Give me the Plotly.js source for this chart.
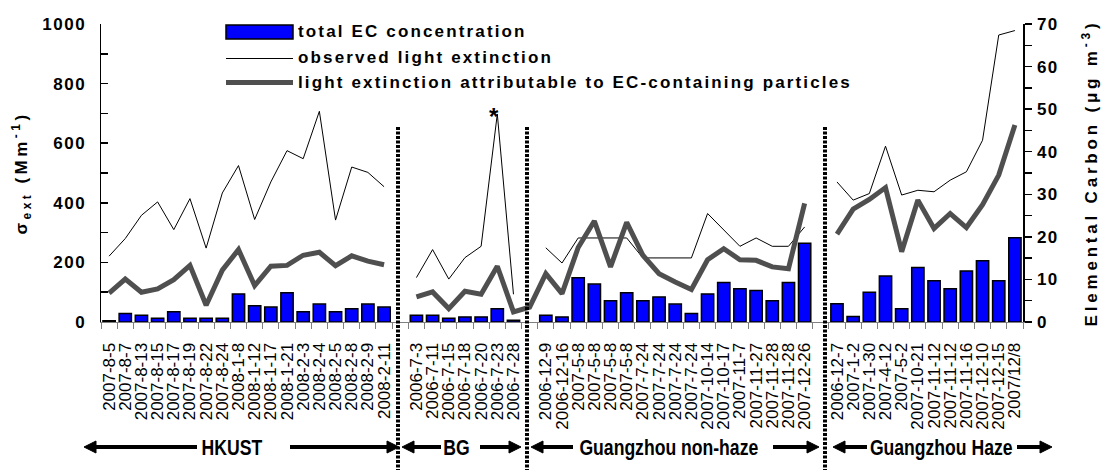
<!DOCTYPE html>
<html>
<head>
<meta charset="utf-8">
<script src="https://cdn.plot.ly/plotly-3.0.1.min.js"></script>
<style>
  html, body { margin: 0; padding: 0; background: #fff; }
  #chart { width: 1102px; height: 470px; }
  .ytick text, .y2tick text { letter-spacing: 1.5px; }
  text.y2title { letter-spacing: 3.5px; }
  text.ytitle { letter-spacing: 3.8px; }
  g.annotation[data-index="0"] text,
  g.annotation[data-index="1"] text,
  g.annotation[data-index="2"] text { letter-spacing: 2.15px; }
  g.annotation[data-index="4"] text,
  g.annotation[data-index="5"] text,
  g.annotation[data-index="6"] text,
  g.annotation[data-index="7"] text { transform: scaleX(0.8); transform-box: fill-box; transform-origin: center; }
</style>
</head>
<body>
<div id="chart"></div>
<script>
// ---------------- DATA ----------------
const groupNames = ['HKUST', 'BG', 'Guangzhou non-haze', 'Guangzhou Haze'];

const hkustDates = ['2007-8-5','2007-8-7','2007-8-13','2007-8-15','2007-8-17','2007-8-19','2007-8-22','2007-8-24','2008-1-8','2008-1-12','2008-1-17','2008-1-21','2008-2-3','2008-2-4','2008-2-5','2008-2-8','2008-2-9','2008-2-11'];
const hkustEC       = [0.3, 2.0, 1.6, 0.9, 2.4, 0.9, 0.9, 0.9, 6.6, 3.8, 3.5, 6.9, 2.4, 4.2, 2.4, 3.1, 4.2, 3.5];
const hkustObserved = [221, 280, 358, 403, 310, 414, 248, 433, 525, 344, 470, 575, 548, 707, 342, 520, 502, 454];
const hkustECext    = [97, 144, 100, 111, 142, 190, 56, 174, 243, 122, 187, 190, 224, 234, 189, 222, 204, 192];

const bgDates = ['2006-7-3','2006-7-11','2006-7-15','2006-7-18','2006-7-20','2006-7-23','2006-7-28'];
const bgEC       = [1.6, 1.6, 0.9, 1.2, 1.2, 3.1, 0.4];
const bgObserved = [149, 243, 144, 216, 254, 698, 93];
const bgECext    = [84, 101, 45, 103, 93, 187, 34];

const nonHazeDates = ['2006-12-9','2006-12-16','2007-5-8','2007-5-8','2007-5-8','2007-5-8','2007-7-24','2007-7-24','2007-7-24','2007-7-24','2007-10-14','2007-10-17','2007-11-7','2007-11-27','2007-11-28','2007-11-28','2007-12-26'];
const nonHazeEC       = [1.6, 1.2, 10.4, 8.9, 5.0, 6.9, 5.0, 5.9, 4.2, 2.0, 6.6, 9.3, 7.8, 7.4, 5.0, 9.3, 18.5];
const nonHazeObserved = [249, 198, 282, 282, 282, 282, 215, 215, 215, 215, 364, 308, 254, 282, 254, 254, 319];
const nonHazeECext    = [162, 95, 250, 339, 185, 334, 224, 162, 134, 109, 209, 246, 209, 207, 185, 179, 398];

const hazeDates = ['2006-12-7','2007-1-2','2007-1-30','2007-4-12','2007-5-2','2007-10-21','2007-11-12','2007-11-12','2007-11-16','2007-12-10','2007-12-15','2007/12/8'];
const hazeEC       = [4.3, 1.3, 7.0, 10.8, 3.1, 12.8, 9.7, 7.8, 12.0, 14.4, 9.7, 19.8];
const hazeObserved = [470, 409, 431, 590, 426, 442, 437, 476, 504, 610, 963, 978];
const hazeECext    = [295, 379, 411, 451, 236, 409, 314, 364, 317, 394, 493, 661];

// values plotted at the empty category between groups (only the EC-attributable line has one)
const gapECext = [null, 50, null];

const legendLabels = ['total EC concentration', 'observed light extinction', 'light extinction attributable to EC-containing particles'];

// ---------------- BUILD SERIES ----------------
const groups = [
  {dates: hkustDates, ec: hkustEC, obs: hkustObserved, ext: hkustECext},
  {dates: bgDates, ec: bgEC, obs: bgObserved, ext: bgECext},
  {dates: nonHazeDates, ec: nonHazeEC, obs: nonHazeObserved, ext: nonHazeECext},
  {dates: hazeDates, ec: hazeEC, obs: hazeObserved, ext: hazeECext}
];
const xs = [], ecY = [], obsY = [], extY = [], tickvals = [], ticktext = [];
let idx = 0;
groups.forEach((g, gi) => {
  g.dates.forEach((d, i) => {
    xs.push(idx); ecY.push(g.ec[i]); obsY.push(g.obs[i]); extY.push(g.ext[i]);
    tickvals.push(idx); ticktext.push(d);
    idx++;
  });
  if (gi < groups.length - 1) {
    xs.push(idx); ecY.push(null); obsY.push(null); extY.push(gapECext[gi]);
    idx++;
  }
});
const nCat = idx;

// ---------------- LAYOUT HELPERS (pixel -> paper) ----------------
const L = 101, T = 24, W = 922, H = 298, FW = 1102, FH = 470;
const PX = v => (v - L) / W;
const PY = v => (T + H - v) / H;

const shapes = [];
// dotted group dividers
[398, 527, 825].forEach(x => {
  shapes.push({type: 'line', xref: 'paper', yref: 'paper', x0: PX(x), x1: PX(x), y0: PY(127), y1: PY(472),
    line: {color: '#000', width: 4, dash: '3px,1.5px'}});
});
// legend swatches
shapes.push({type: 'rect', xref: 'paper', yref: 'paper', x0: PX(226), x1: PX(293), y0: PY(39), y1: PY(25),
  fillcolor: '#0000FF', line: {color: '#000', width: 1.5}});
shapes.push({type: 'line', xref: 'paper', yref: 'paper', x0: PX(226), x1: PX(293), y0: PY(58.5), y1: PY(58.5),
  line: {color: '#000', width: 1}});
shapes.push({type: 'line', xref: 'paper', yref: 'paper', x0: PX(226), x1: PX(293), y0: PY(82.5), y1: PY(82.5),
  line: {color: '#4f4f4f', width: 5}});
// bottom arrows [tail, tip]
const arrowY = 447;
[[197, 84], [290, 399], [441, 402], [480, 521], [573, 531], [773, 819], [867, 833], [1017, 1052]].forEach(([tail, tip]) => {
  const dir = tip > tail ? 1 : -1;
  const headLen = 12, half = 6;
  shapes.push({type: 'line', xref: 'paper', yref: 'paper', x0: PX(tail), x1: PX(tip - dir * (headLen - 2)), y0: PY(arrowY), y1: PY(arrowY),
    line: {color: '#000', width: 4}});
  const p = `M${PX(tip)},${PY(arrowY)} L${PX(tip - dir * headLen)},${PY(arrowY - half)} L${PX(tip - dir * headLen)},${PY(arrowY + half)} Z`;
  shapes.push({type: 'path', xref: 'paper', yref: 'paper', path: p, fillcolor: '#000', line: {color: '#000', width: 1}});
});

const legendFont = {family: 'Liberation Sans, Arial, sans-serif', size: 17, color: '#000', weight: 'bold'};
const annotations = [
  {xref: 'paper', yref: 'paper', x: PX(296), y: PY(31.5), xanchor: 'left', yanchor: 'middle', align: 'left', text: legendLabels[0], showarrow: false, font: legendFont},
  {xref: 'paper', yref: 'paper', x: PX(296), y: PY(57), xanchor: 'left', yanchor: 'middle', align: 'left', text: legendLabels[1], showarrow: false, font: legendFont},
  {xref: 'paper', yref: 'paper', x: PX(296), y: PY(82), xanchor: 'left', yanchor: 'middle', align: 'left', text: legendLabels[2], showarrow: false, font: legendFont},
  {xref: 'paper', yref: 'paper', x: PX(494), y: PY(116), xanchor: 'center', yanchor: 'middle', text: '*', showarrow: false,
    font: {family: 'Liberation Sans, Arial, sans-serif', size: 24, color: '#000', weight: 'bold'}}
];
const groupFont = {family: 'Liberation Sans, Arial, sans-serif', size: 22, color: '#000', weight: 'bold'};
[232, 456, 669, 941].forEach((x, i) => {
  annotations.push({xref: 'paper', yref: 'paper', x: PX(x), y: PY(arrowY), xanchor: 'center', yanchor: 'middle',
    text: groupNames[i], showarrow: false, font: groupFont});
});

// ---------------- TRACES ----------------
const traces = [
  {type: 'bar', x: xs, y: ecY, yaxis: 'y', name: legendLabels[0],
    marker: {color: '#0000FF', line: {color: '#000', width: 1.5}}, hoverinfo: 'y'},
  {type: 'scatter', mode: 'lines', x: xs, y: obsY, yaxis: 'y2', name: legendLabels[1],
    line: {color: '#000', width: 1}, connectgaps: false},
  {type: 'scatter', mode: 'lines', x: xs, y: extY, yaxis: 'y2', name: legendLabels[2],
    line: {color: '#4f4f4f', width: 5}, connectgaps: false}
];

const axisFont = {family: 'Liberation Sans, Arial, sans-serif', size: 17, color: '#000', weight: 'bold'};
const layout = {
  width: FW, height: FH,
  margin: {l: L, r: FW - L - W, t: T, b: FH - T - H, pad: 0},
  paper_bgcolor: '#fff', plot_bgcolor: '#fff',
  showlegend: false,
  bargap: 0.24,
  font: {family: 'Liberation Sans, Arial, sans-serif', color: '#000'},
  xaxis: {
    range: [-0.5, nCat - 0.5], tickmode: 'array', tickvals: tickvals, ticktext: ticktext,
    tickangle: -90, ticks: '', ticklabelstandoff: 13,
    tickfont: {family: 'Liberation Sans, Arial, sans-serif', size: 17, color: '#000'},
    showline: true, linecolor: '#808080', linewidth: 1, showgrid: false, zeroline: false,
    minor: {tick0: 0.5, dtick: 1, ticks: 'outside', ticklen: 6, tickwidth: 1, tickcolor: '#808080', showgrid: false}
  },
  yaxis: {
    side: 'right', range: [0, 70], tickmode: 'linear', tick0: 0, dtick: 10,
    ticks: 'outside', ticklen: 7, tickwidth: 1.5, tickcolor: '#000',
    minor: {dtick: 5, ticks: 'outside', ticklen: 7, tickwidth: 1.5, tickcolor: '#000', showgrid: false},
    showline: true, linecolor: '#000', linewidth: 1.5, showgrid: false, zeroline: false,
    tickfont: axisFont, ticklabelstandoff: 2,
    title: {text: 'Elemental Carbon (μg m<sup>-3</sup>)', font: axisFont, standoff: 27}
  },
  yaxis2: {
    overlaying: 'y', side: 'left', range: [0, 1000], tickmode: 'linear', tick0: 0, dtick: 200,
    ticks: 'inside', ticklen: 7, tickwidth: 1.5, tickcolor: '#000',
    minor: {dtick: 100, ticks: 'inside', ticklen: 7, tickwidth: 1.5, tickcolor: '#000', showgrid: false},
    showline: true, linecolor: '#000', linewidth: 1.5, showgrid: false, zeroline: false,
    tickfont: axisFont, ticklabelstandoff: 10,
    title: {text: 'σ<sub>ext</sub> (Mm<sup>-1</sup>)', font: axisFont, standoff: 10}
  },
  shapes: shapes,
  annotations: annotations
};

Plotly.newPlot('chart', traces, layout, {displayModeBar: false, staticPlot: true});
</script>
</body>
</html>
